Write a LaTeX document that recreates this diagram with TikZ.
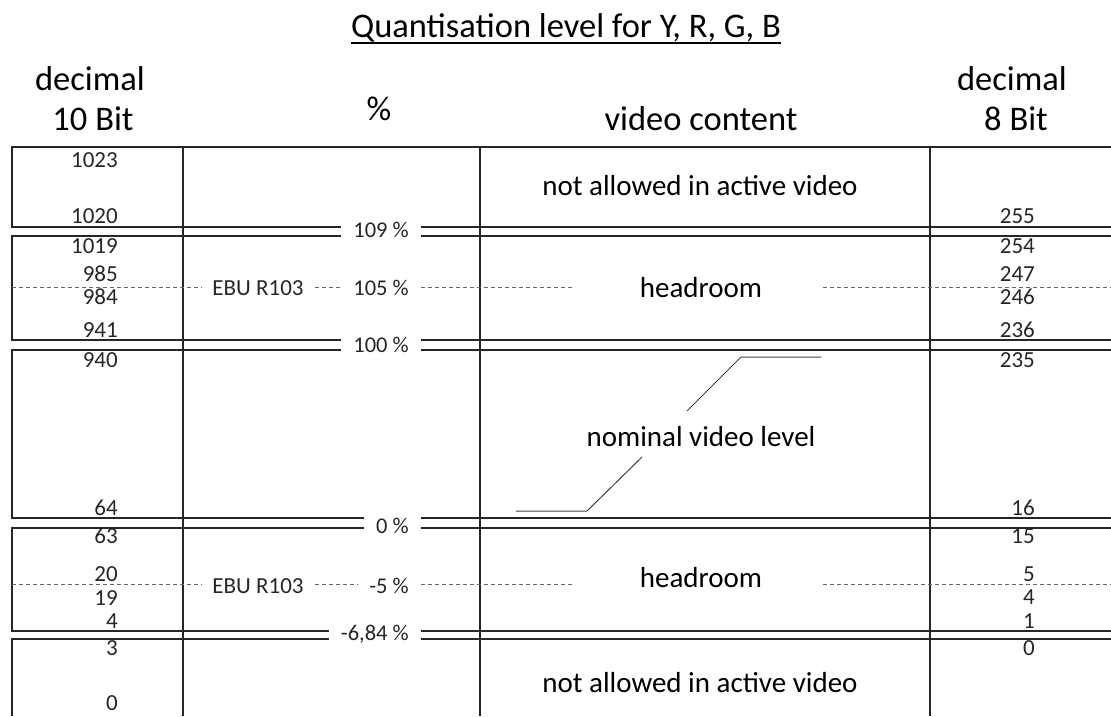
\documentclass[tikz,border=0pt]{standalone}
\usepackage{fontspec}
\setmainfont{Carlito}
\begin{document}
\begin{tikzpicture}[x=1pt,y=-1pt,
  solid line/.style={draw=black!85,line width=1.3pt},
  dash line/.style={draw=black!60,line width=0.9pt,dash pattern=on 4pt off 3pt},
  lead line/.style={draw=black!75,line width=1pt},
  num/.style={font=\fontsize{23}{26}\selectfont,anchor=base east,inner sep=0pt,text=black!85},
  pct/.style={font=\fontsize{22.5}{26}\selectfont,anchor=base east,inner ysep=0pt,inner xsep=12pt,text=black!85},
  ebu/.style={font=\fontsize{23}{26}\selectfont,anchor=base,inner ysep=0pt,inner xsep=11pt,text=black!85},
  content/.style={font=\fontsize{29}{33}\selectfont,anchor=base,inner sep=0pt},
  header/.style={font=\fontsize{34.5}{38}\selectfont,anchor=base,inner sep=0pt}]
\useasboundingbox (0,0) rectangle (1111,716);

% title and headers
\node[header] (title) at (566,37) {Quantisation level for Y, R, G, B};
\draw[line width=1.8pt] ([yshift=-6pt]title.base west) -- ([yshift=-6pt]title.base east);
\node[header] (h10a) at (90,90) {decimal};
\node[header] (h10b) at (93,130) {10 Bit};
\node[header] (hpct) at (379,120) {\%};
\node[header] (hvid) at (701,130) {video content};
\node[header] (h8a) at (1012,90) {decimal};
\node[header] (h8b) at (1016,130) {8 Bit};

% percent labels
\node[pct] (p109) at (421,237) {109 \%};
\node[pct] (p105) at (421,295) {105 \%};
\node[pct] (p100) at (421,352) {100 \%};
\node[pct] (p0) at (421,533) {0 \%};
\node[pct] (pm5) at (421,593) {-5 \%};
\node[pct] (pm684) at (421,640) {-6,84 \%};
\node[ebu] (ebu1) at (258,295) {EBU R103};
\node[ebu] (ebu2) at (258,593) {EBU R103};

% content texts
\node[content] (na1) at (700,195) {not allowed in active video};
\node[content] (hr1) at (701,297) {headroom};
\node[content] (nvl) at (701,446) {nominal video level};
\node[content] (hr2) at (701,587) {headroom};
\node[content] (na2) at (700,692) {not allowed in active video};

% column lines
\draw[solid line] (183,147) -- (183,716);
\draw[solid line] (480,147) -- (480,716);
\draw[solid line] (930,147) -- (930,716);

% boxes (left part) and level lines
\draw[solid line] (1111,147) -- (12,147) -- (12,227) -- (p109.west |- 0,227);
\draw[solid line] (p109.east |- 0,227) -- (1111,227);
\draw[solid line] (p109.west |- 0,236) -- (12,236) -- (12,340) -- (p100.west |- 0,340);
\draw[solid line] (p109.east |- 0,236) -- (1111,236);
\draw[solid line] (p100.east |- 0,340) -- (1111,340);
\draw[solid line] (p100.west |- 0,350) -- (12,350) -- (12,518) -- (p0.west |- 0,518);
\draw[solid line] (p100.east |- 0,350) -- (1111,350);
\draw[solid line] (p0.east |- 0,518) -- (1111,518);
\draw[solid line] (p0.west |- 0,528) -- (12,528) -- (12,631) -- (pm684.west |- 0,631);
\draw[solid line] (p0.east |- 0,528) -- (1111,528);
\draw[solid line] (pm684.east |- 0,631) -- (1111,631);
\draw[solid line] (pm684.west |- 0,639) -- (12,639) -- (12,716);
\draw[solid line] (pm684.east |- 0,639) -- (1111,639);

% dashed EBU R103 lines
\coordinate (d1l) at (12,287);
\coordinate (d1r) at (1111,287);
\coordinate (d1a) at (575,287);
\coordinate (d1b) at (823,287);
\draw[dash line] (d1l) -- (ebu1.west |- d1l);
\draw[dash line] (ebu1.east |- d1l) -- (p105.west |- d1l);
\draw[dash line] (p105.east |- d1l) -- (d1a);
\draw[dash line] (d1b) -- (d1r);
\coordinate (d2l) at (12,584);
\coordinate (d2r) at (1111,584);
\coordinate (d2a) at (575,584);
\coordinate (d2b) at (823,584);
\draw[dash line] (d2l) -- (ebu2.west |- d2l);
\draw[dash line] (ebu2.east |- d2l) -- (pm5.west |- d2l);
\draw[dash line] (pm5.east |- d2l) -- (d2a);
\draw[dash line] (d2b) -- (d2r);

% nominal video level bracket
\coordinate (b1) at (821,357);
\coordinate (b2) at (741,357);
\coordinate (b3) at (687,411);
\coordinate (b4) at (642,457);
\coordinate (b5) at (587,511);
\coordinate (b6) at (516,511);
\draw[lead line] (b1) -- (b2) -- (b3);
\draw[lead line] (b4) -- (b5) -- (b6);

% 10 bit values
\node[num] (l1023) at (118,167) {1023};
\node[num] (l1020) at (118,223) {1020};
\node[num] (l1019) at (118,253) {1019};
\node[num] (l985) at (118,281) {985};
\node[num] (l984) at (118,304) {984};
\node[num] (l941) at (118,337) {941};
\node[num] (l940) at (118,367) {940};
\node[num] (l64) at (118,515) {64};
\node[num] (l63) at (118,543) {63};
\node[num] (l20) at (118,581) {20};
\node[num] (l19) at (118,605) {19};
\node[num] (l4) at (118,628) {4};
\node[num] (l3) at (118,655) {3};
\node[num] (l0) at (118,710) {0};

% 8 bit values
\node[num] (r255) at (1035,223) {255};
\node[num] (r254) at (1035,253) {254};
\node[num] (r247) at (1035,281) {247};
\node[num] (r246) at (1035,304) {246};
\node[num] (r236) at (1035,337) {236};
\node[num] (r235) at (1035,367) {235};
\node[num] (r16) at (1035,515) {16};
\node[num] (r15) at (1035,543) {15};
\node[num] (r5) at (1035,581) {5};
\node[num] (r4) at (1035,604) {4};
\node[num] (r1) at (1035,628) {1};
\node[num] (r0) at (1035,655) {0};
\end{tikzpicture}
\end{document}
